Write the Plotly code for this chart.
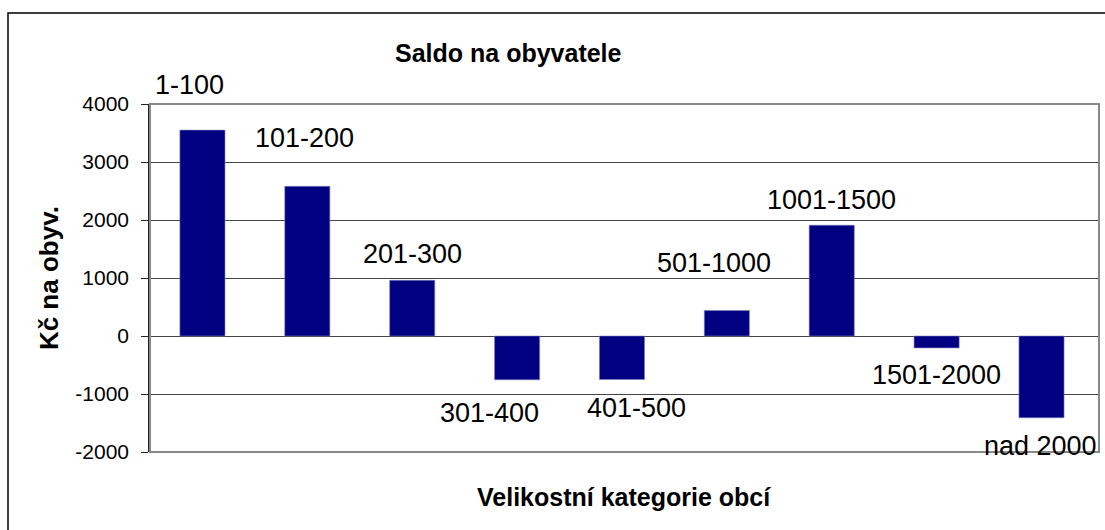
import plotly.graph_objects as go

categories = ["1-100", "101-200", "201-300", "301-400", "401-500",
              "501-1000", "1001-1500", "1501-2000", "nad 2000"]
values = [3550, 2580, 960, -755, -750, 440, 1910, -205, -1410]
tick_vals = [-2000, -1000, 0, 1000, 2000, 3000, 4000]
tick_text = ["-2000", "-1000", "0", "1000", "2000", "3000", "4000"]

# label placement offsets (px) relative to bar end
label_dx = [-13, -3, 0, -28, 15, -13, 0, 0, -1]
label_dy = [45, 48, 26, 33, 28, 47, 25, 27, 28]

FONT = "Arial, Liberation Sans, sans-serif"

fig = go.Figure()
fig.add_trace(go.Bar(
    x=categories, y=values,
    marker=dict(color="#000080", line=dict(color="#7f7fc0", width=0.6)),
    width=0.43,
    hoverinfo="x+y",
))

annotations = []
for c, v, dx, dy in zip(categories, values, label_dx, label_dy):
    annotations.append(dict(
        x=c, y=v, xref="x", yref="y", text=c, showarrow=False,
        xshift=dx, yshift=dy if v >= 0 else -dy,
        xanchor="center", yanchor="middle",
        font=dict(family=FONT, size=27, color="#000000"),
    ))

annotations.append(dict(
    x=0.499, y=-0.129, xref="paper", yref="paper",
    text="<b>Velikostní kategorie obcí</b>", showarrow=False,
    xanchor="center", yanchor="middle",
    font=dict(family=FONT, size=25, color="#000000"),
))
annotations.append(dict(
    x=-0.107, y=0.501, xref="paper", yref="paper",
    text="<b>Kč na obyv.</b>", showarrow=False, textangle=-90,
    xanchor="center", yanchor="middle",
    font=dict(family=FONT, size=26, color="#000000"),
))
annotations.append(dict(
    x=0.378, y=(452 - 53) / 348, xref="paper", yref="paper",
    text="<b>Saldo na obyvatele</b>", showarrow=False,
    xanchor="center", yanchor="middle",
    font=dict(family=FONT, size=25, color="#000000"),
))

fig.update_layout(
    width=1105, height=530,
    margin=dict(l=150, r=6, t=104, b=78),
    paper_bgcolor="white", plot_bgcolor="white",
    showlegend=False,
    annotations=annotations,
    shapes=[
        # plot area frame (gray)
        dict(type="rect", xref="paper", yref="paper", x0=0, x1=1, y0=0, y1=1,
             line=dict(color="#888888", width=2), layer="above"),
        # outer chart border
        dict(type="rect", xref="paper", yref="paper",
             x0=(8 - 150) / 949, x1=(1120 - 150) / 949,
             y0=(452 - 545) / 348, y1=(452 - 13) / 348,
             line=dict(color="#000000", width=1.5), layer="above"),
    ],
)

fig.update_xaxes(
    type="category", showticklabels=False, showgrid=False, zeroline=False,
    showline=False, ticks="",
)
fig.update_yaxes(
    range=[-2000, 4000], tickvals=tick_vals, ticktext=tick_text,
    showgrid=True, gridcolor="#444444", gridwidth=1,
    zeroline=True, zerolinecolor="#444444", zerolinewidth=1,
    showline=True, linecolor="#222222", linewidth=1.5,
    ticks="outside", ticklen=7, tickcolor="#222222", tickwidth=1,
    ticklabelstandoff=8,
    tickfont=dict(family=FONT, size=21, color="#000000"),
)

fig.write_html(
    "out.html",
    config={"displayModeBar": False},
    post_script="document.body.style.margin='0px';document.body.style.overflow='hidden';",
)
